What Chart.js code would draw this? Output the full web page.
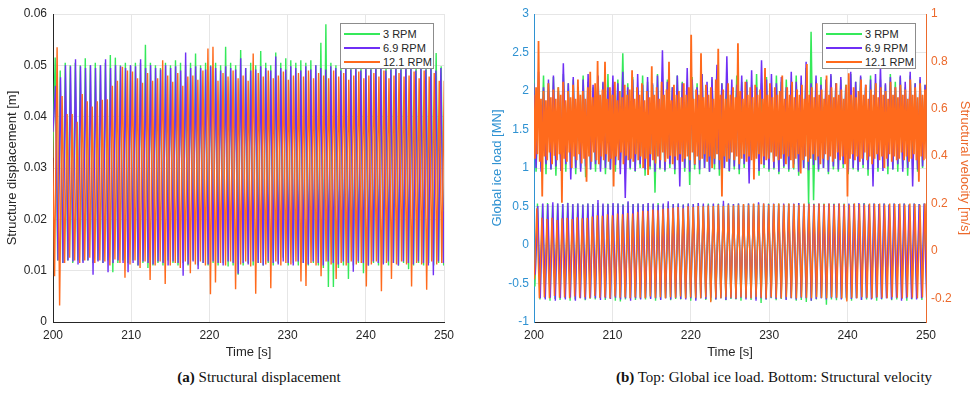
<!DOCTYPE html>
<html>
<head>
<meta charset="utf-8">
<script src="https://cdn.jsdelivr.net/npm/chart.js@4.4.1/dist/chart.umd.min.js"></script>
<style>
  body { margin: 0; background: #fff; }
  #wrap { position: relative; width: 980px; height: 399px; overflow: hidden; font-family: 'Liberation Sans', Arial, sans-serif; }
  canvas { position: absolute; top: 0; }
  .legend { position: absolute; top: 23px; width: 94px; height: 46px; box-sizing: border-box; border: 1px solid #8c8c8c; background: #fff; }
  .legend .row { position: absolute; left: 3px; height: 14px; font-size: 11px; color: #262626; line-height: 14px; }
  .legend .swatch { position: absolute; left: 0; top: 6px; width: 36px; height: 1.6px; }
  .legend .lbl { position: absolute; left: 39px; top: 0; white-space: nowrap; }
  .caption { position: absolute; top: 369px; font-family: 'Liberation Serif', 'Times New Roman', serif; font-size: 15px; color: #111; white-space: nowrap; transform: translateX(-50%); }
</style>
</head>
<body>
<div id="wrap">
  <canvas id="dispChart" width="490" height="362" style="left:0"></canvas>
  <canvas id="loadChart" width="490" height="362" style="left:490px"></canvas>
  <div class="legend" id="legA" style="left:340px"></div>
  <div class="legend" id="legB" style="left:822px"></div>
  <div class="caption" style="left:259px"><b>(a)</b> Structural displacement</div>
  <div class="caption" style="left:774px"><b>(b)</b> Top: Global ice load. Bottom: Structural velocity</div>
</div>
<script>
// Series names and colours
const seriesNames = ['3 RPM', '6.9 RPM', '12.1 RPM'];
const seriesColors = ['#35e95a', '#6f2ff5', '#ff6a1c'];

// Tick labels
const timeTicks = [200, 210, 220, 230, 240, 250];
const dispTicks = [0, 0.01, 0.02, 0.03, 0.04, 0.05, 0.06];
const loadTicks = [-1, -0.5, 0, 0.5, 1, 1.5, 2, 2.5, 3];
const velTicks = [-0.2, 0, 0.2, 0.4, 0.6, 0.8, 1];

// Sampling of the extremes (time of first sample and spacing, s)
const halfPeriod = [0.3205, 0.3200, 0.3215];
const dispStart = [199.96, 200.00, 199.88];
const velStart = [200.12, 200.16, 200.04];
const loadStart = 199.95;
const loadStep = [0.316, 0.316, 0.157];

// Structural displacement [m], successive extremes
const disp3 = [
  0.032,0.0515, 0.012,0.049, 0.0115,0.0505, 0.012,0.050, 0.0115,0.0505, 0.012,0.050, 0.0118,0.0514, 0.012,0.050, 0.0115,0.0505, 0.012,0.050,
  0.0115,0.0505, 0.012,0.052, 0.0097,0.0515, 0.0115,0.050, 0.012,0.0505, 0.0115,0.050, 0.012,0.0505, 0.011,0.0505, 0.0115,0.054, 0.0105,0.0505,
  0.011,0.050, 0.0115,0.0495, 0.011,0.0505, 0.012,0.050, 0.0115,0.051, 0.011,0.0505, 0.0115,0.050, 0.011,0.0505, 0.012,0.0523, 0.011,0.050,
  0.0115,0.0505, 0.011,0.050, 0.0115,0.0505, 0.011,0.050, 0.0115,0.0536, 0.0108,0.0505, 0.011,0.050, 0.0092,0.053, 0.011,0.0495, 0.0115,0.0505,
  0.011,0.050, 0.0115,0.0528, 0.011,0.0505, 0.0115,0.050, 0.011,0.0525, 0.0115,0.0505, 0.0125,0.0514, 0.011,0.051, 0.0115,0.0505, 0.011,0.051,
  0.0115,0.0505, 0.011,0.051, 0.0115,0.050, 0.011,0.0544, 0.0105,0.058, 0.0068,0.0505, 0.0068,0.050, 0.0105,0.0505, 0.011,0.050, 0.0084,0.0505,
  0.011,0.050, 0.0115,0.0505, 0.0095,0.050, 0.011,0.0505, 0.0115,0.050, 0.011,0.0505, 0.0115,0.050, 0.011,0.0505, 0.0115,0.050, 0.011,0.0505,
  0.0115,0.050, 0.0103,0.0505, 0.011,0.050, 0.0115,0.0505, 0.011,0.050, 0.0115,0.0505, 0.011,0.0524, 0.0115,0.0498, 0.011,0.0505, 0.012,0.050
];
const disp69 = [
  0.037,0.046, 0.012,0.0477, 0.0115,0.050, 0.012,0.0498, 0.0118,0.0512, 0.0112,0.0498, 0.0115,0.0495, 0.012,0.050, 0.0092,0.0495, 0.0118,0.050,
  0.0115,0.0512, 0.0097,0.0495, 0.0115,0.050, 0.012,0.0498, 0.0115,0.0495, 0.0097,0.050, 0.0115,0.0498, 0.011,0.0512, 0.0118,0.0495, 0.0115,0.050,
  0.0112,0.0495, 0.0118,0.0492, 0.0115,0.050, 0.011,0.0495, 0.0118,0.0498, 0.0115,0.049, 0.009,0.0525, 0.0112,0.0495, 0.0118,0.0498, 0.0103,0.0495,
  0.0115,0.0492, 0.0112,0.0498, 0.0118,0.0495, 0.0115,0.049, 0.011,0.0498, 0.0118,0.0495, 0.0115,0.0492, 0.0094,0.0514, 0.0115,0.0495, 0.0112,0.049,
  0.0118,0.0492, 0.0115,0.0498, 0.011,0.0495, 0.0118,0.049, 0.0115,0.0517, 0.0112,0.0495, 0.0118,0.0492, 0.0115,0.0498, 0.011,0.0495, 0.0118,0.049,
  0.0115,0.0498, 0.0112,0.0492, 0.0118,0.050, 0.0115,0.0495, 0.011,0.0492, 0.0118,0.0498, 0.0115,0.0495, 0.0112,0.049, 0.0118,0.0495, 0.0115,0.0492,
  0.0098,0.0495, 0.0118,0.049, 0.0115,0.0495, 0.011,0.0492, 0.0118,0.0498, 0.0115,0.0495, 0.0112,0.049, 0.0118,0.0492, 0.0115,0.0495, 0.011,0.0492,
  0.0118,0.0498, 0.0115,0.0495, 0.0112,0.049, 0.0118,0.0495, 0.0115,0.0492, 0.011,0.0495, 0.0091,0.049, 0.0118,0.0495, 0.0115,0.047, 0.018,0.041
];
const disp121 = [
  0.043,0.0089, 0.0535,0.0032, 0.044,0.0115, 0.0405,0.0125, 0.0405,0.012, 0.039,0.0115, 0.0444,0.012, 0.043,0.0125, 0.042,0.0115, 0.043,0.012,
  0.0433,0.0118, 0.0434,0.011, 0.046,0.0122, 0.047,0.0115, 0.0497,0.0086, 0.049,0.0112, 0.0488,0.012, 0.0475,0.0105, 0.0466,0.0118, 0.0485,0.0082,
  0.047,0.011, 0.0475,0.0118, 0.051,0.0074, 0.048,0.011, 0.0468,0.0115, 0.0485,0.0105, 0.046,0.0118, 0.0478,0.0095, 0.048,0.0112, 0.0472,0.0118,
  0.049,0.011, 0.0533,0.0054, 0.0536,0.0077, 0.047,0.0115, 0.0485,0.011, 0.0478,0.0118, 0.049,0.0064, 0.0475,0.0112, 0.048,0.0118, 0.047,0.0108,
  0.0523,0.0055, 0.0485,0.0115, 0.0478,0.0112, 0.049,0.0066, 0.0475,0.0118, 0.048,0.011, 0.0488,0.0115, 0.0472,0.0112, 0.048,0.0118, 0.0485,0.0079,
  0.0478,0.007, 0.049,0.0115, 0.0475,0.011, 0.0485,0.0089, 0.048,0.0118, 0.0475,0.0112, 0.049,0.0084, 0.0478,0.0115, 0.0485,0.011, 0.0472,0.0118,
  0.048,0.0112, 0.0488,0.0115, 0.0475,0.0069, 0.048,0.0112, 0.0485,0.0118, 0.0478,0.006, 0.049,0.0115, 0.0475,0.0084, 0.048,0.0112, 0.0485,0.0118,
  0.0478,0.0112, 0.048,0.0069, 0.0488,0.0115, 0.0475,0.0112, 0.049,0.0063, 0.0478,0.0118, 0.0485,0.0112, 0.047,0.0115, 0.047,0.022, 0.030,0.020
];

// Structural velocity [m/s], successive extremes
const vel3 = [
  -0.15,0.2, -0.205,0.198, -0.2,0.202, -0.21,0.196, -0.203,0.2, -0.207,0.198, -0.2,0.203, -0.21,0.197, -0.205,0.2, -0.2,0.196,
  -0.208,0.2, -0.202,0.198, -0.205,0.202, -0.2,0.196, -0.207,0.2, -0.203,0.198, -0.21,0.2, -0.213,0.197, -0.205,0.205, -0.2,0.198,
  -0.207,0.2, -0.203,0.196, -0.205,0.2, -0.2,0.198, -0.21,0.202, -0.205,0.196, -0.2,0.2, -0.208,0.198, -0.203,0.2, -0.205,0.196,
  -0.2,0.2, -0.21,0.198, -0.205,0.202, -0.2,0.196, -0.207,0.2, -0.212,0.198, -0.205,0.2, -0.2,0.197, -0.208,0.2, -0.203,0.198,
  -0.205,0.2, -0.21,0.196, -0.2,0.2, -0.207,0.198, -0.203,0.202, -0.22,0.196, -0.205,0.2, -0.2,0.198, -0.208,0.2, -0.203,0.196,
  -0.205,0.2, -0.2,0.198, -0.21,0.202, -0.207,0.196, -0.215,0.205, -0.21,0.2, -0.205,0.198, -0.2,0.2, -0.227,0.196, -0.205,0.2,
  -0.208,0.198, -0.203,0.2, -0.205,0.196, -0.21,0.2, -0.2,0.198, -0.207,0.202, -0.205,0.196, -0.203,0.2, -0.21,0.198, -0.205,0.2,
  -0.2,0.196, -0.208,0.2, -0.205,0.198, -0.203,0.2, -0.21,0.196, -0.205,0.2, -0.2,0.198, -0.207,0.2, -0.205,0.196, -0.2,0.15
];
const vel69 = [
  -0.1,0.19, -0.2,0.2, -0.205,0.198, -0.198,0.205, -0.21,0.2, -0.2,0.198, -0.205,0.202, -0.197,0.198, -0.21,0.2, -0.2,0.196,
  -0.205,0.2, -0.198,0.198, -0.2,0.215, -0.207,0.2, -0.2,0.198, -0.203,0.202, -0.198,0.2, -0.205,0.196, -0.2,0.21, -0.21,0.198,
  -0.2,0.2, -0.205,0.198, -0.198,0.202, -0.203,0.2, -0.2,0.196, -0.207,0.2, -0.2,0.21, -0.205,0.198, -0.198,0.2, -0.203,0.196,
  -0.205,0.2, -0.2,0.198, -0.21,0.202, -0.2,0.2, -0.203,0.196, -0.198,0.2, -0.205,0.198, -0.2,0.212, -0.207,0.2, -0.2,0.198,
  -0.203,0.2, -0.198,0.196, -0.205,0.2, -0.2,0.198, -0.21,0.205, -0.2,0.2, -0.205,0.198, -0.198,0.2, -0.203,0.196, -0.2,0.2,
  -0.207,0.198, -0.2,0.2, -0.205,0.202, -0.198,0.196, -0.2,0.2, -0.21,0.198, -0.203,0.2, -0.2,0.196, -0.205,0.2, -0.198,0.198,
  -0.2,0.2, -0.205,0.196, -0.198,0.2, -0.203,0.198, -0.2,0.202, -0.207,0.2, -0.2,0.196, -0.205,0.2, -0.198,0.198, -0.203,0.2,
  -0.2,0.196, -0.205,0.2, -0.198,0.198, -0.21,0.2, -0.2,0.196, -0.203,0.2, -0.205,0.198, -0.2,0.2, -0.198,0.196, -0.203,0.19
];
const vel121 = [
  -0.12,0.18, -0.2,0.14, -0.195,0.135, -0.2,0.14, -0.19,0.13, -0.198,0.138, -0.195,0.14, -0.2,0.135, -0.192,0.142, -0.198,0.138,
  -0.195,0.14, -0.2,0.145, -0.19,0.15, -0.198,0.148, -0.195,0.155, -0.2,0.15, -0.192,0.158, -0.198,0.155, -0.195,0.16, -0.2,0.158,
  -0.195,0.165, -0.198,0.17, -0.2,0.168, -0.192,0.175, -0.198,0.172, -0.195,0.178, -0.2,0.18, -0.195,0.182, -0.198,0.185, -0.192,0.18,
  -0.2,0.188, -0.195,0.185, -0.198,0.19, -0.2,0.188, -0.195,0.192, -0.217,0.19, -0.198,0.195, -0.2,0.19, -0.195,0.195, -0.198,0.192,
  -0.2,0.195, -0.195,0.198, -0.198,0.195, -0.2,0.2, -0.195,0.196, -0.198,0.2, -0.2,0.195, -0.195,0.198, -0.198,0.2, -0.2,0.196,
  -0.195,0.2, -0.198,0.198, -0.2,0.195, -0.195,0.2, -0.198,0.198, -0.2,0.196, -0.195,0.2, -0.198,0.198, -0.2,0.2, -0.195,0.196,
  -0.198,0.2, -0.2,0.198, -0.213,0.195, -0.198,0.2, -0.2,0.198, -0.195,0.196, -0.198,0.2, -0.2,0.198, -0.195,0.2, -0.198,0.196,
  -0.2,0.2, -0.195,0.198, -0.198,0.2, -0.2,0.196, -0.195,0.2, -0.198,0.198, -0.2,0.195, -0.195,0.2, -0.198,0.198, -0.2,0.196
];

// Global ice load [MN], successive highs and lows
const load3 = [
  2.15,0.95, 2.05,1.0, 2.2,0.92, 2.1,0.98, 2.18,0.9, 2.05,1.02, 2.22,0.95, 2.1,0.98, 2.15,0.92, 2.05,1.0,
  2.2,0.88, 2.12,0.98, 2.05,0.95, 2.18,1.0, 2.1,0.92, 2.22,0.98, 2.08,0.95, 2.15,1.0, 2.49,0.92, 2.1,0.98,
  2.18,0.95, 2.05,1.0, 2.2,0.9, 2.12,0.98, 2.08,0.68, 2.22,0.98, 2.1,0.95, 2.15,1.0, 2.05,0.92, 2.2,0.98,
  2.12,0.95, 2.08,0.78, 2.18,0.98, 2.1,0.92, 2.22,1.0, 2.05,0.95, 2.15,0.98, 2.2,0.9, 2.1,1.0, 2.18,0.95,
  2.05,0.98, 2.2,0.92, 2.12,1.0, 2.15,0.95, 2.08,0.98, 2.22,0.9, 2.1,1.0, 2.18,0.95, 2.05,0.98, 2.2,0.92,
  2.12,1.0, 2.15,0.95, 2.08,0.98, 2.2,0.9, 2.1,1.0, 2.3,0.54, 2.77,0.58, 2.12,0.95, 2.18,1.0, 2.05,0.92,
  2.2,0.98, 2.1,0.95, 2.15,1.0, 2.08,0.92, 2.22,0.98, 2.12,0.95, 2.18,1.0, 2.05,0.9, 2.2,0.98, 2.1,0.95,
  2.15,1.0, 2.08,0.92, 2.22,0.98, 2.12,0.95, 2.18,1.0, 2.05,0.9, 2.2,0.98, 2.1,0.95, 2.15,1.0, 2.08,0.92
];
const load69 = [
  2.1,1.0, 2.25,0.95, 2.05,1.05, 2.15,0.98, 2.2,1.02, 2.0,0.96, 2.36,1.05, 2.1,0.85, 2.18,1.0, 2.05,0.95,
  2.15,1.02, 2.22,0.98, 2.08,1.05, 2.2,0.95, 2.12,1.0, 2.05,0.98, 2.2,1.04, 2.1,0.92, 2.25,0.61, 2.05,1.0,
  2.15,0.96, 2.22,1.05, 2.08,0.98, 2.18,1.02, 2.1,0.95, 2.2,1.0, 2.53,0.97, 2.12,1.05, 2.05,0.98, 2.2,0.76,
  2.1,1.0, 2.3,0.95, 2.15,1.04, 2.05,0.98, 2.22,1.0, 2.12,0.95, 2.18,1.05, 2.34,0.98, 2.1,1.0, 2.45,0.96,
  2.15,1.02, 2.08,0.98, 2.2,1.05, 2.12,0.8, 2.27,1.0, 2.05,0.96, 2.4,1.04, 2.15,0.98, 2.22,1.0, 2.1,0.95,
  2.18,1.02, 2.05,0.98, 2.25,1.05, 2.12,0.95, 2.2,1.0, 2.38,0.97, 2.1,1.04, 2.2,0.98, 2.08,1.0, 2.15,0.95,
  2.22,1.02, 2.1,0.98, 2.18,1.05, 2.05,0.95, 2.25,1.0, 2.12,0.97, 2.2,1.04, 2.08,0.98, 2.15,0.76, 2.22,1.0,
  2.32,0.96, 2.1,1.02, 2.18,0.98, 2.05,1.05, 2.2,0.95, 2.12,1.0, 2.25,0.76, 2.1,0.98, 2.18,1.02, 2.08,0.98
];
const load121 = [
  1.95,1.12, 2.05,1.18, 2.65,1.08, 1.9,0.63, 2.0,1.15, 1.88,1.1, 2.1,1.2, 1.92,1.05, 2.02,1.16, 1.9,1.1,
  2.05,1.18, 1.95,0.55, 2.12,1.12, 1.88,1.08, 2.0,1.2, 1.92,1.0, 2.08,1.15, 1.9,1.1, 2.15,1.18, 1.95,1.06,
  2.0,1.12, 1.9,0.82, 2.05,1.15, 2.25,1.08, 1.92,1.2, 2.1,1.1, 2.39,1.05, 1.95,1.15, 2.02,1.1, 2.38,1.18,
  1.9,1.08, 2.05,1.12, 1.95,0.76, 2.12,1.15, 1.88,1.1, 2.0,1.2, 1.92,1.05, 2.08,1.16, 1.95,1.1, 2.02,1.12,
  2.27,1.08, 1.9,1.18, 2.05,1.1, 1.95,1.15, 2.1,1.0, 1.88,1.12, 2.0,0.91, 1.92,1.18, 2.32,1.1, 1.95,1.06,
  2.05,1.15, 1.9,1.1, 2.12,1.2, 1.95,1.08, 2.02,1.12, 2.38,1.16, 1.88,1.05, 2.08,1.15, 1.95,1.1, 2.0,1.18,
  1.92,1.08, 2.1,1.12, 1.95,1.15, 2.05,1.1, 2.73,1.2, 1.9,1.05, 2.02,1.15, 1.95,1.1, 2.49,1.12, 1.92,1.18,
  2.08,1.08, 1.95,1.15, 2.05,1.0, 1.9,1.12, 2.15,1.18, 2.55,1.1, 1.95,0.63, 2.02,1.15, 1.9,1.08, 2.1,1.12,
  1.95,1.2, 2.05,1.1, 1.92,1.15, 2.62,1.05, 2.0,1.12, 1.9,1.18, 2.12,1.08, 1.95,1.15, 2.05,1.1, 1.92,0.85,
  2.08,1.12, 1.95,1.18, 2.02,1.05, 1.9,1.15, 2.3,1.1, 1.95,1.12, 2.1,1.2, 1.92,1.08, 2.05,1.15, 1.95,1.1,
  2.0,1.12, 2.2,1.18, 1.9,1.05, 2.05,1.15, 1.95,1.1, 2.12,1.0, 1.92,1.12, 2.02,1.18, 1.95,0.93, 2.08,1.1,
  1.9,1.15, 2.35,1.08, 1.95,1.12, 2.05,1.18, 1.92,1.1, 2.1,1.15, 1.95,1.05, 2.02,1.12, 1.9,1.18, 2.2,1.1,
  1.95,1.15, 2.05,1.08, 1.92,1.12, 2.1,1.2, 1.95,1.1, 2.02,1.15, 1.9,1.05, 2.08,0.63, 2.23,1.12, 1.95,1.18,
  2.05,1.1, 1.92,1.15, 2.0,1.08, 2.15,1.12, 1.95,1.2, 2.08,1.1, 1.9,1.15, 2.02,1.05, 1.95,1.12, 2.1,1.18,
  1.92,1.1, 2.05,1.15, 1.95,1.0, 2.0,1.12, 1.9,1.18, 2.12,1.08, 1.95,1.15, 2.05,1.1, 1.92,1.12, 2.08,1.2,
  1.95,1.1, 2.02,1.15, 1.9,1.08, 2.15,1.12, 1.95,1.18, 2.05,1.1, 1.92,0.82, 2.1,1.15, 1.95,1.1, 2.02,1.12
];

const tickColor = '#262626';
const gridColor = '#e6e6e6';
const loadAxisColor = '#2f92d2';
const velAxisColor = '#ec6a2c';

Chart.defaults.font.family = "'Liberation Sans', Arial, sans-serif";
Chart.defaults.font.size = 12;

function toPoints(values, start, step) {
    return values.map((v, i) => ({ x: start + i * step, y: v }));
}

function makeSet(idx, values, start, step, axis, width = 1.4) {
    return {
        label: seriesNames[idx],
        data: toPoints(values, start, step),
        borderColor: seriesColors[idx],
        borderWidth: width,
        pointRadius: 0,
        tension: 0,
        fill: false,
        yAxisID: axis,
        order: 3 - idx
    };
}

function setTicks(values) {
    return scale => { scale.ticks = values.map(v => ({ value: v })); };
}

const plainLabel = value => String(value);

function timeAxis() {
    return {
        type: 'linear',
        min: 200,
        max: 250,
        afterBuildTicks: setTicks(timeTicks),
        afterFit: s => { s.height = 40; },
        grid: { color: gridColor, drawTicks: false },
        border: { color: tickColor },
        ticks: { color: tickColor, padding: 6, callback: plainLabel },
        title: { display: true, text: 'Time [s]', color: tickColor, font: { size: 13 }, padding: { top: 0, bottom: 2 } }
    };
}

// (a) Structural displacement
new Chart(document.getElementById('dispChart'), {
    type: 'line',
    data: {
        datasets: [
            makeSet(0, disp3, dispStart[0], halfPeriod[0], 'y'),
            makeSet(1, disp69, dispStart[1], halfPeriod[1], 'y'),
            makeSet(2, disp121, dispStart[2], halfPeriod[2], 'y')
        ]
    },
    options: {
        responsive: false,
        animation: false,
        layout: { padding: { left: 0, right: 46, top: 14, bottom: 0 } },
        plugins: { legend: { display: false }, tooltip: { enabled: false } },
        scales: {
            x: timeAxis(),
            y: {
                min: 0,
                max: 0.06,
                afterBuildTicks: setTicks(dispTicks),
                afterFit: s => { s.width = 53; },
                grid: { color: gridColor, drawTicks: false },
                border: { color: tickColor },
                ticks: { color: tickColor, padding: 6, callback: plainLabel },
                title: { display: true, text: 'Structure displacement [m]', color: tickColor, font: { size: 13 }, padding: { top: 5, bottom: 0 } }
            }
        }
    }
});

// (b) Global ice load (left) and structural velocity (right)
new Chart(document.getElementById('loadChart'), {
    type: 'line',
    data: {
        datasets: [
            makeSet(0, load3, loadStart, loadStep[0], 'yL', 1.5),
            makeSet(1, load69, loadStart, loadStep[1], 'yL', 1.5),
            makeSet(2, load121, loadStart, loadStep[2], 'yL', 1.8),
            makeSet(0, vel3, velStart[0], halfPeriod[0], 'yR'),
            makeSet(1, vel69, velStart[1], halfPeriod[1], 'yR'),
            makeSet(2, vel121, velStart[2], halfPeriod[2], 'yR')
        ]
    },
    options: {
        responsive: false,
        animation: false,
        layout: { padding: { left: 0, right: 0, top: 14, bottom: 0 } },
        plugins: { legend: { display: false }, tooltip: { enabled: false } },
        scales: {
            x: timeAxis(),
            yL: {
                position: 'left',
                min: -1,
                max: 3,
                afterBuildTicks: setTicks(loadTicks),
                afterFit: s => { s.width = 44; },
                grid: { color: gridColor, drawTicks: false },
                border: { color: loadAxisColor },
                ticks: { color: loadAxisColor, padding: 5, callback: plainLabel },
                title: { display: true, text: 'Global ice load [MN]', color: loadAxisColor, font: { size: 13 }, padding: { top: 0, bottom: 0 } }
            },
            yR: {
                position: 'right',
                min: -0.3,
                max: 1,
                afterBuildTicks: setTicks(velTicks),
                afterFit: s => { s.width = 54; },
                grid: { drawOnChartArea: false, drawTicks: false },
                border: { color: velAxisColor },
                ticks: { color: velAxisColor, padding: 5, callback: plainLabel },
                title: { display: true, text: 'Structural velocity [m/s]', color: velAxisColor, font: { size: 13 }, padding: { top: 8, bottom: 0 } }
            }
        }
    }
});

// Legends drawn inside the axes
function buildLegend(id) {
    const box = document.getElementById(id);
    seriesNames.forEach((name, i) => {
        const row = document.createElement('div');
        row.className = 'row';
        row.style.top = (3 + i * 14) + 'px';
        row.innerHTML = `<span class="swatch" style="background:${seriesColors[i]}"></span><span class="lbl">${name}</span>`;
        box.appendChild(row);
    });
}
buildLegend('legA');
buildLegend('legB');
</script>
</body>
</html>
